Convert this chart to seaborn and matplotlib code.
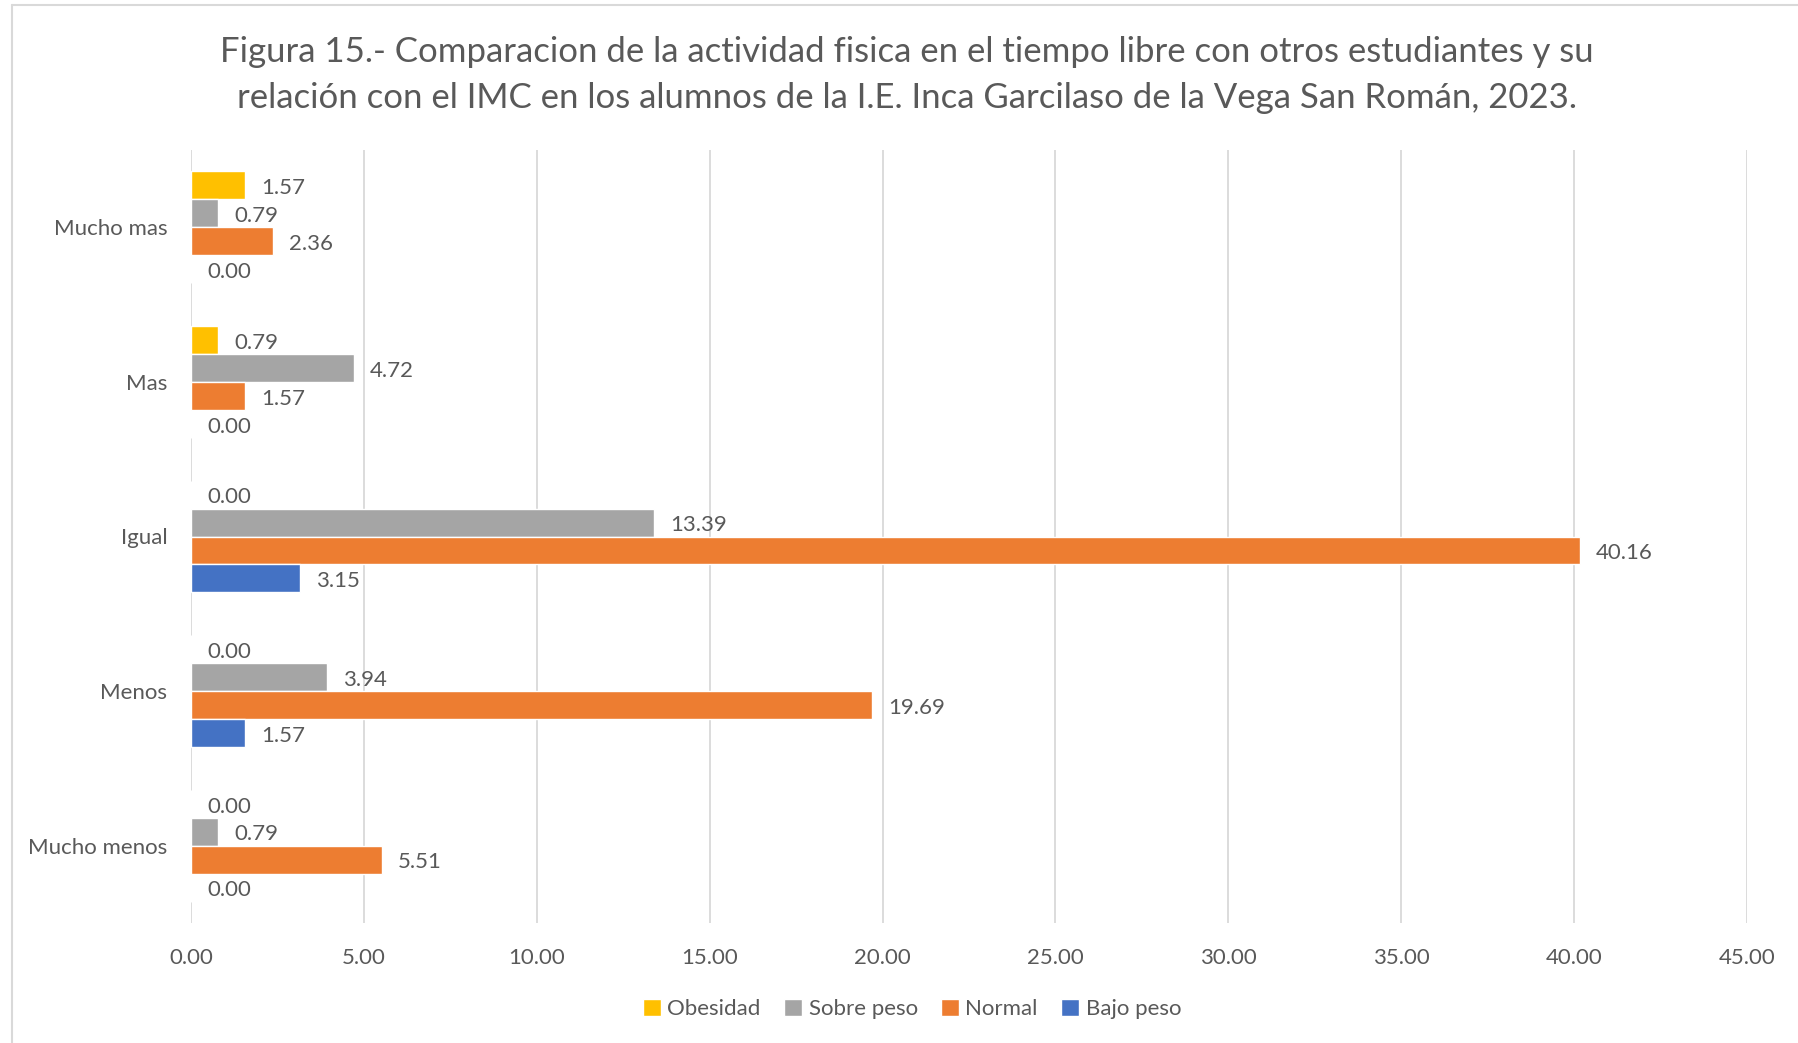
import matplotlib.pyplot as plt
import matplotlib.lines as mlines
import seaborn as sns
import pandas as pd

categorias = ["Mucho mas", "Mas", "Igual", "Menos", "Mucho menos"]
grupos = ["Obesidad", "Sobre peso", "Normal", "Bajo peso"]
obesidad = [1.57, 0.79, 0.00, 0.00, 0.00]
sobre_peso = [0.79, 4.72, 13.39, 3.94, 0.79]
normal = [2.36, 1.57, 40.16, 19.69, 5.51]
bajo_peso = [0.00, 0.00, 3.15, 1.57, 0.00]
colores = ["#FFC000", "#A5A5A5", "#ED7D31", "#4472C4"]

titulo = ("Figura 15.- Comparacion de la actividad fisica en el tiempo libre con otros estudiantes y su\n"
          "relación con el IMC en los alumnos de la I.E. Inca Garcilaso de la Vega San Román, 2023.")

sns.set_style("white")
plt.rcParams['font.family'] = ['Lato', 'DejaVu Sans']
gris_texto = "#595959"

# long format table for seaborn
filas = []
for grupo, valores in zip(grupos, [obesidad, sobre_peso, normal, bajo_peso]):
    for cat, v in zip(categorias, valores):
        filas.append({"actividad": cat, "grupo": grupo, "valor": v})
df = pd.DataFrame(filas)

fig = plt.figure(figsize=(17.98, 10.43), dpi=100)
ax = fig.add_axes([191 / 1798, 1 - 923 / 1043, (1747 - 191) / 1798, (923 - 150) / 1043])

sns.barplot(data=df, x="valor", y="actividad", hue="grupo", orient="h",
            order=categorias, hue_order=grupos, palette=colores,
            width=0.724, saturation=1, errorbar=None, ax=ax)

# value labels at bar ends
for cont in ax.containers:
    for bar in cont:
        w = bar.get_width()
        y = bar.get_y() + bar.get_height() / 2
        ax.annotate(f"{w:.2f}", (w, y), xytext=(11.5, -2), textcoords="offset points",
                    ha="left", va="center", fontsize=16, color=gris_texto)

ax.set_xlim(0, 45)
ax.set_xticks(range(0, 50, 5))
ax.set_xticklabels([f"{t:.2f}" for t in range(0, 50, 5)])
ax.tick_params(axis="x", length=0, pad=18, labelsize=16, labelcolor=gris_texto)
ax.tick_params(axis="y", length=0, pad=17, labelsize=16, labelcolor=gris_texto)
ax.set_xlabel("")
ax.set_ylabel("")
ax.grid(axis="x", color="#D9D9D9", linewidth=1.3)
ax.grid(axis="y", visible=False)
ax.set_axisbelow(True)
for s in ax.spines.values():
    s.set_visible(False)

handles, labels = ax.get_legend_handles_labels()
ax.legend(handles, labels, loc="center", bbox_to_anchor=(912 / 1798, 1 - 1009 / 1043),
          bbox_transform=fig.transFigure, ncol=4, frameon=False, fontsize=16,
          handlelength=0.8, handleheight=0.8, handletextpad=0.3, columnspacing=1.05,
          labelcolor=gris_texto)

fig.text(907 / 1798, 1 - 75 / 1043, titulo, ha="center", va="center",
         fontsize=25, color=gris_texto, linespacing=1.5)

# chart area border (only top and left visible in the reference)
fig.add_artist(mlines.Line2D([12 / 1798, 1], [1 - 5 / 1043, 1 - 5 / 1043],
                             transform=fig.transFigure, color="#D9D9D9", linewidth=1.5))
fig.add_artist(mlines.Line2D([12 / 1798, 12 / 1798], [0, 1 - 5 / 1043],
                             transform=fig.transFigure, color="#D9D9D9", linewidth=1.5))

fig.savefig("out.png", dpi=100)
